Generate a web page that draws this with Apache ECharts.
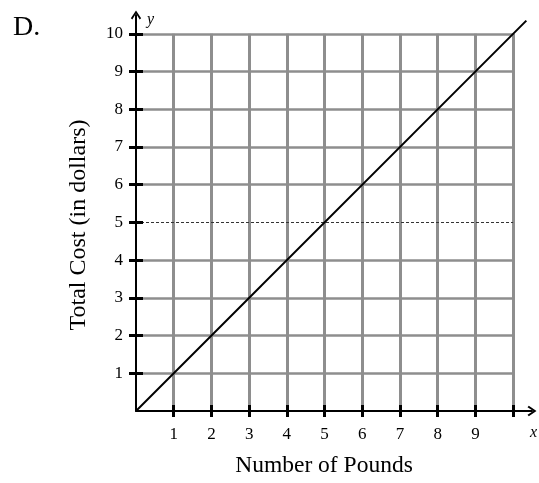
<!DOCTYPE html>
<html><head><meta charset="utf-8">
<script src="https://cdn.jsdelivr.net/npm/echarts@6/dist/echarts.min.js"></script>
<style>html,body{margin:0;padding:0;background:#fff}#c{width:539px;height:483px}</style>
</head><body><div id="c"></div>
<script>
// ---- data ----
const lineX = [0, 10.35];
const lineY = [0, 10.35];
const xTicks = [1, 2, 3, 4, 5, 6, 7, 8, 9, 10];
const xTickLabels = [1, 2, 3, 4, 5, 6, 7, 8, 9];
const yTicks = [1, 2, 3, 4, 5, 6, 7, 8, 9, 10];
const yTickLabels = [1, 2, 3, 4, 5, 6, 7, 8, 9, 10];
const gridXs = [1, 2, 3, 4, 5, 6, 7, 8, 9, 10];
const gridYs = [1, 2, 3, 4, 6, 7, 8, 9, 10];
const dottedYs = [5];
const gridExtent = 10;
const axisMax = 10.5;
const xName = 'Number of Pounds';
const yName = 'Total Cost (in dollars)';

const FONT = 'Liberation Serif';
const chevron = 'path://M5,0 L10.6,8.4 L9,9.8 L5,3.4 L1,9.8 L-0.6,8.4 Z';
const gray = '#8e8e8e';

const gridLines = [];
gridXs.forEach(v => gridLines.push([{coord: [v, 0], lineStyle: {color: gray, width: 3, type: 'solid'}}, {coord: [v, gridExtent]}]));
gridYs.forEach(v => gridLines.push([{coord: [0, v], lineStyle: {color: gray, width: 2.5, type: 'solid'}}, {coord: [gridExtent, v]}]));
dottedYs.forEach(v => gridLines.push([{coord: [0, v], lineStyle: {color: '#333', width: 1.2, type: [3, 2]}}, {coord: [gridExtent, v]}]));

const baseAxis = {
  type: 'value', min: 0, max: axisMax, splitLine: {show: false}, z: 3
};

const chart = echarts.init(document.getElementById('c'), null, {renderer: 'canvas'});
chart.setOption({
  animation: false,
  backgroundColor: '#fff',
  grid: {left: 136, right: 7, top: 15, bottom: 72, containLabel: false},
  xAxis: [
    Object.assign({}, baseAxis, {
      position: 'bottom',
      axisLine: {show: true, lineStyle: {color: '#000', width: 2}, symbol: ['none', chevron], symbolSize: [13, 9]},
      axisTick: {show: true, inside: false, length: 6, customValues: xTicks, lineStyle: {color: '#000', width: 3}},
      axisLabel: {show: true, customValues: xTickLabels, margin: 15, color: '#000', fontFamily: FONT, fontSize: 17},
      name: xName, nameLocation: 'middle', nameGap: 43,
      nameTextStyle: {color: '#000', fontFamily: FONT, fontSize: 23.5, padding: [0, 20, 0, 0]}
    }),
    Object.assign({}, baseAxis, {
      position: 'bottom',
      axisLine: {show: false},
      axisTick: {show: true, inside: true, length: 6, customValues: xTicks, lineStyle: {color: '#000', width: 3}},
      axisLabel: {show: false}
    })
  ],
  yAxis: [
    Object.assign({}, baseAxis, {
      position: 'left',
      axisLine: {show: true, lineStyle: {color: '#000', width: 2}, symbol: ['none', chevron], symbolSize: [13, 9]},
      axisTick: {show: true, inside: false, length: 7, customValues: yTicks, lineStyle: {color: '#000', width: 3}},
      axisLabel: {show: true, customValues: yTickLabels, margin: 13, color: '#000', fontFamily: FONT, fontSize: 17},
      name: yName, nameLocation: 'middle', nameGap: 45,
      nameTextStyle: {color: '#000', fontFamily: FONT, fontSize: 24, padding: [0, 24, 0, 0]}
    }),
    Object.assign({}, baseAxis, {
      position: 'left',
      axisLine: {show: false},
      axisTick: {show: true, inside: true, length: 7, customValues: yTicks, lineStyle: {color: '#000', width: 3}},
      axisLabel: {show: false}
    })
  ],
  graphic: [
    {type: 'text', left: 13, top: 14, style: {text: 'D.', font: '28px "Liberation Serif"', fill: '#000'}},
    {type: 'text', left: 147, top: 12, style: {text: 'y', font: 'italic 16px "Liberation Serif"', fill: '#000'}},
    {type: 'text', left: 530, top: 425, style: {text: 'x', font: 'italic 16px "Liberation Serif"', fill: '#000'}}
  ],
  series: [
    {
      type: 'line', xAxisIndex: 0, yAxisIndex: 0, z: 1, silent: true,
      data: [], symbol: 'none',
      markLine: {silent: true, z: 1, symbol: ['none', 'none'], label: {show: false}, animation: false, data: gridLines}
    },
    {
      type: 'line', xAxisIndex: 0, yAxisIndex: 0, z: 5, silent: true,
      data: lineX.map((x, i) => [x, lineY[i]]),
      symbol: 'none',
      lineStyle: {color: '#000', width: 2}
    }
  ]
});
</script>
</body></html>
